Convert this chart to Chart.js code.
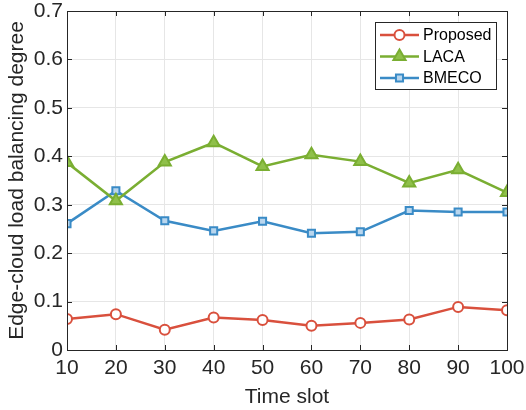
<!DOCTYPE html>
<html>
<head>
<meta charset="utf-8">
<script src="https://cdn.jsdelivr.net/npm/chart.js@4/dist/chart.umd.min.js"></script>
<style>
  html, body { margin: 0; padding: 0; background: #fff; }
  #wrap { width: 526px; height: 410px; }
</style>
</head>
<body>
<div id="wrap"><canvas id="chart" width="526" height="410"></canvas></div>
<script>
'use strict';

const timeSlots = [10, 20, 30, 40, 50, 60, 70, 80, 90, 100];
const proposed = [0.064, 0.074, 0.042, 0.067, 0.062, 0.050, 0.056, 0.063, 0.089, 0.082];
const laca = [0.387, 0.308, 0.388, 0.428, 0.379, 0.403, 0.389, 0.345, 0.372, 0.325];
const bmeco = [0.261, 0.329, 0.267, 0.246, 0.266, 0.241, 0.244, 0.288, 0.285, 0.285];
const seriesNames = ['Proposed', 'LACA', 'BMECO'];
const xTicks = [10, 20, 30, 40, 50, 60, 70, 80, 90, 100];
const yTicks = [0, 0.1, 0.2, 0.3, 0.4, 0.5, 0.6, 0.7];

const fontFamily = 'Liberation Sans, Arial, Helvetica, sans-serif';

function toPoints(values) {
    return timeSlots.map(function (x, i) {
        return {x: x, y: values[i]};
    });
}

// box around the plot area plus inward ticks, like matlab
const boxPlugin = {
    id: 'box',
    afterDraw: function (chart) {
        let ctx = chart.ctx,
            a = chart.chartArea,
            xs = chart.scales.x,
            ys = chart.scales.y;

        ctx.save();
        ctx.strokeStyle = '#262626';
        ctx.lineWidth = 1;
        ctx.beginPath();
        xTicks.forEach(function (t) {
            let px = Math.round(xs.getPixelForValue(t)) + 0.5;
            ctx.moveTo(px, a.bottom);
            ctx.lineTo(px, a.bottom - 5);
            ctx.moveTo(px, a.top);
            ctx.lineTo(px, a.top + 5);
        });
        yTicks.forEach(function (t) {
            let py = Math.round(ys.getPixelForValue(t)) + 0.5;
            ctx.moveTo(a.left, py);
            ctx.lineTo(a.left + 5, py);
            ctx.moveTo(a.right, py);
            ctx.lineTo(a.right - 5, py);
        });
        ctx.stroke();
        ctx.strokeRect(Math.round(a.left) + 0.5, Math.round(a.top) + 0.5,
            Math.round(a.right - a.left), Math.round(a.bottom - a.top));
        ctx.restore();
    }
};

// legend drawn inside the axes, top right
const insideLegend = {
    id: 'insideLegend',
    afterDraw: function (chart) {
        let ctx = chart.ctx,
            a = chart.chartArea,
            bx = a.right - 132,
            by = a.top + 11,
            bw = 121,
            bh = 67;

        ctx.save();
        ctx.fillStyle = '#fff';
        ctx.fillRect(bx, by, bw, bh);
        ctx.strokeStyle = '#262626';
        ctx.lineWidth = 1;
        ctx.strokeRect(bx + 0.5, by + 0.5, bw, bh);
        ctx.font = '16px ' + fontFamily;
        ctx.textBaseline = 'middle';

        chart.data.datasets.forEach(function (ds, i) {
            let cy = by + 13 + i * 21.5,
                x0 = bx + 5,
                x1 = bx + 44;
            ctx.strokeStyle = ds.borderColor;
            ctx.lineWidth = 2.5;
            ctx.beginPath();
            ctx.moveTo(x0, cy);
            ctx.lineTo(x1, cy);
            ctx.stroke();
            ctx.save();
            ctx.fillStyle = ds.pointBackgroundColor;
            ctx.strokeStyle = ds.borderColor;
            ctx.lineWidth = ds.pointBorderWidth;
            Chart.helpers.drawPoint(ctx, {
                pointStyle: ds.pointStyle,
                radius: ds.pointRadius,
                borderWidth: ds.pointBorderWidth
            }, (x0 + x1) / 2, cy);
            ctx.restore();
            ctx.fillStyle = '#000';
            ctx.fillText(seriesNames[i], x1 + 4, cy + 1);
        });
        ctx.restore();
    }
};

const ctx = document.getElementById('chart');

new Chart(ctx, {
    type: 'scatter',
    data: {
        datasets: [{
            label: seriesNames[0],
            data: toPoints(proposed),
            showLine: true,
            borderColor: '#d9503d',
            backgroundColor: '#d9503d',
            pointBackgroundColor: '#ffffff',
            pointStyle: 'circle',
            pointRadius: 5,
            pointBorderWidth: 2,
            borderWidth: 2.5
        }, {
            label: seriesNames[1],
            data: toPoints(laca),
            showLine: true,
            borderColor: '#7aae32',
            backgroundColor: '#7aae32',
            pointBackgroundColor: '#8fc04a',
            pointStyle: 'triangle',
            pointRadius: 7,
            pointBorderWidth: 2,
            borderWidth: 2.5
        }, {
            label: seriesNames[2],
            data: toPoints(bmeco),
            showLine: true,
            borderColor: '#3a8bc6',
            backgroundColor: '#3a8bc6',
            pointBackgroundColor: '#b9d6ee',
            pointStyle: 'rect',
            pointRadius: 5,
            pointBorderWidth: 2,
            borderWidth: 2.5
        }]
    },
    options: {
        responsive: false,
        animation: false,
        layout: {
            padding: {left: 0, right: 19, top: 11, bottom: 0}
        },
        plugins: {
            legend: {display: false},
            tooltip: {enabled: false}
        },
        scales: {
            x: {
                type: 'linear',
                min: 10,
                max: 100,
                afterBuildTicks: function (scale) {
                    scale.ticks = xTicks.map(function (v) { return {value: v}; });
                },
                afterFit: function (scale) {
                    scale.height = 60;
                    scale.paddingLeft = 0;
                    scale.paddingRight = 0;
                },
                grid: {
                    color: '#e6e6e6',
                    drawTicks: false
                },
                border: {display: false},
                ticks: {
                    color: '#262626',
                    padding: 6,
                    maxRotation: 0,
                    font: {family: fontFamily, size: 21}
                },
                title: {
                    display: true,
                    text: 'Time slot',
                    color: '#262626',
                    padding: {top: 1, bottom: 0},
                    font: {family: fontFamily, size: 21}
                }
            },
            y: {
                min: 0,
                max: 0.7,
                afterBuildTicks: function (scale) {
                    scale.ticks = yTicks.map(function (v) { return {value: v}; });
                },
                afterFit: function (scale) {
                    scale.width = 67;
                    scale.paddingTop = 0;
                    scale.paddingBottom = 0;
                },
                grid: {
                    color: '#e6e6e6',
                    drawTicks: false
                },
                border: {display: false},
                ticks: {
                    color: '#262626',
                    padding: 4,
                    font: {family: fontFamily, size: 21},
                    callback: function (v) { return v === 0 ? '0' : v.toFixed(1); }
                },
                title: {
                    display: true,
                    text: 'Edge-cloud load balancing degree',
                    color: '#262626',
                    padding: {top: 5, bottom: 0},
                    font: {family: fontFamily, size: 21}
                }
            }
        }
    },
    plugins: [boxPlugin, insideLegend]
});
</script>
</body>
</html>
